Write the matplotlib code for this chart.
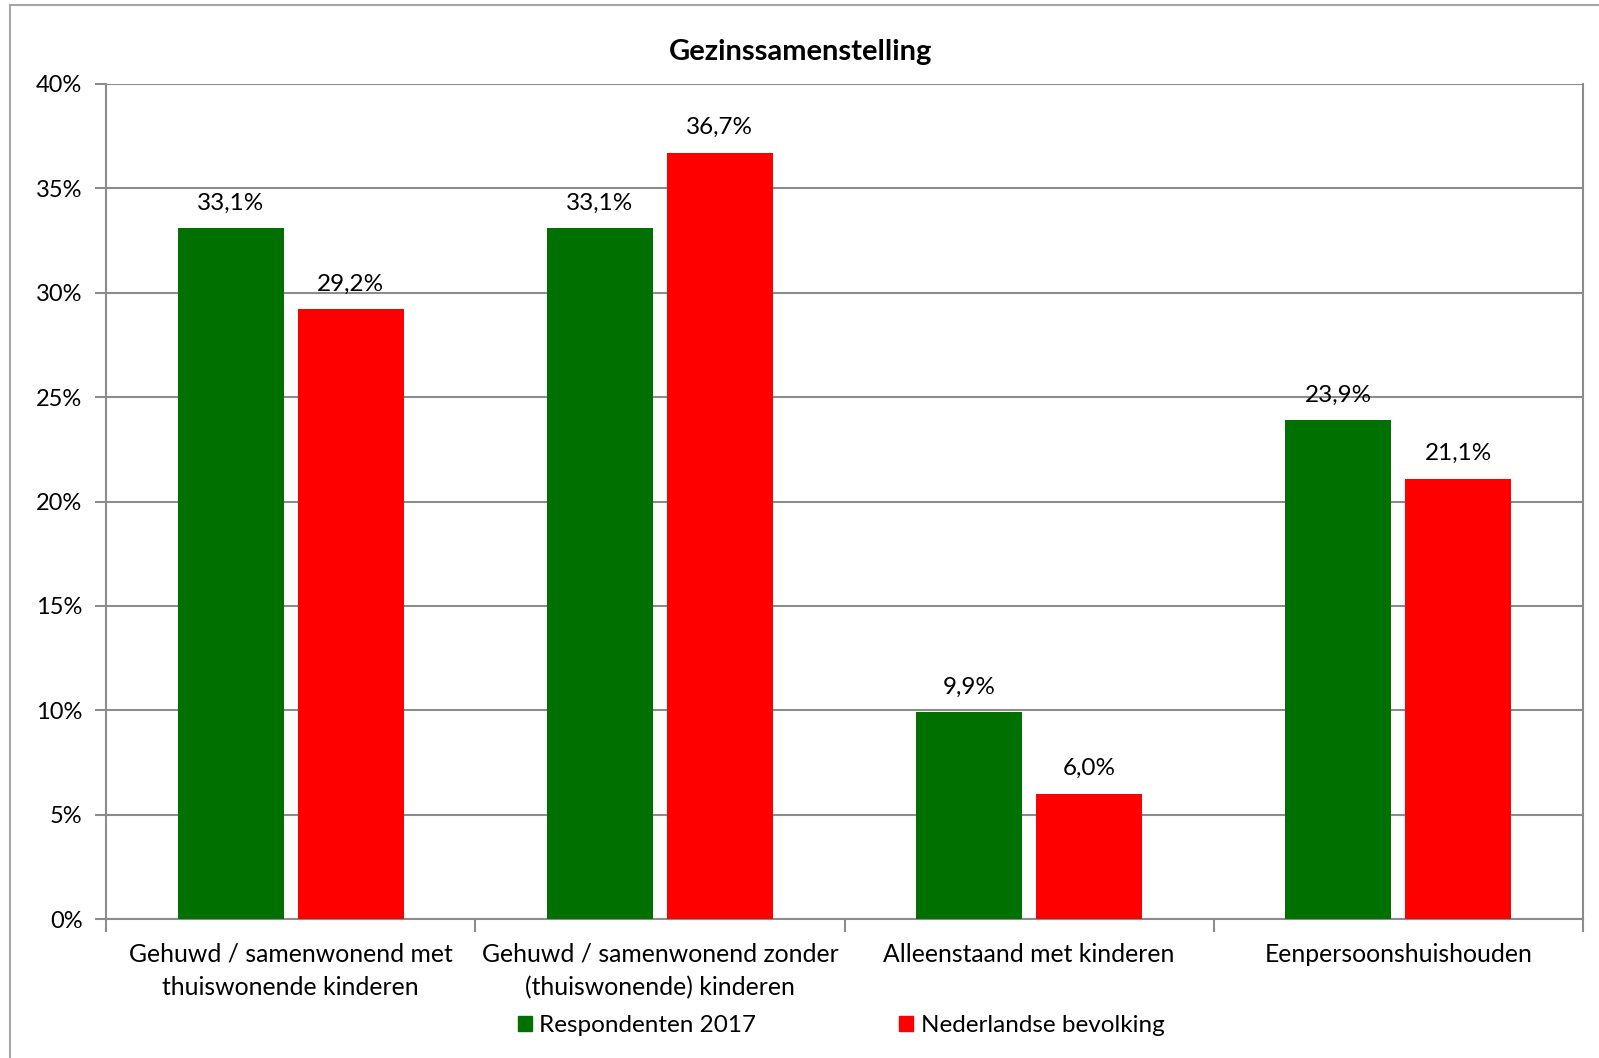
import numpy as np
import matplotlib.pyplot as plt
from matplotlib.lines import Line2D
from matplotlib.ticker import FuncFormatter, MultipleLocator

plt.rcParams['font.family'] = ['Lato', 'DejaVu Sans']

# data
categories = ['Gehuwd / samenwonend met\nthuiswonende kinderen',
              'Gehuwd / samenwonend zonder\n(thuiswonende) kinderen',
              'Alleenstaand met kinderen',
              'Eenpersoonshuishouden']
respondenten = [33.1, 33.1, 9.9, 23.9]
bevolking = [29.2, 36.7, 6.0, 21.1]
series_names = ['Respondenten 2017', 'Nederlandse bevolking']
colors = ['#007000', '#ff0000']

fig = plt.figure(figsize=(15.99, 10.58), dpi=100)
ax = fig.add_axes([106 / 1599, 1 - 919 / 1058, (1583 - 106) / 1599, (919 - 84) / 1058])

x = np.arange(len(categories))
w = 0.287
off = 0.1625
grid_c = '#8c8c8c'

b1 = ax.bar(x - off, respondenten, w, color=colors[0], zorder=3)
b2 = ax.bar(x + off, bevolking, w, color=colors[1], zorder=3)

for bars, vals in ((b1, respondenten), (b2, bevolking)):
    for r, v in zip(bars, vals):
        ax.text(r.get_x() + r.get_width() / 2, v + 1.2, f'{v:.1f}%'.replace('.', ','),
                ha='center', va='center', fontsize=17.5)

ax.set_xlim(-0.5, len(categories) - 0.5)
ax.set_ylim(0, 40)
ax.yaxis.set_major_locator(MultipleLocator(5))
ax.yaxis.set_major_formatter(FuncFormatter(lambda v, p: f'{v:.0f}%'))
ax.grid(axis='y', color=grid_c, linewidth=1.5, zorder=0)

# category separators as ticks
ax.set_xticks(np.arange(len(categories) + 1) - 0.5)
ax.set_xticklabels([])
ax.set_xticks(x, minor=True)
ax.set_xticklabels(categories, minor=True, fontsize=17.8, linespacing=1.55)
ax.tick_params(axis='x', which='minor', length=0, pad=17)
ax.tick_params(axis='x', which='major', length=9, width=1.5, color=grid_c)
ax.tick_params(axis='y', length=8, width=1.5, color=grid_c, labelsize=17, pad=9)

for s in ['left', 'bottom', 'right']:
    ax.spines[s].set_color(grid_c)
    ax.spines[s].set_linewidth(1.5)
ax.spines['top'].set_visible(False)

fig.text(801 / 1599, 1 - 52 / 1058, 'Gezinssamenstelling', ha='center', va='center',
         fontsize=21, fontweight='bold')

handles = [plt.Rectangle((0, 0), 1, 1, color=c) for c in colors]
fig.legend(handles, series_names, loc='center', bbox_to_anchor=(841 / 1599, 1 - 1026 / 1058),
           ncol=2, frameon=False, fontsize=17.5, handlelength=0.58, handleheight=0.58,
           handletextpad=0.3, columnspacing=5.9)

# outer chart border
fig.add_artist(Line2D([10 / 1599, 10 / 1599], [0, 1 - 5 / 1058], transform=fig.transFigure,
                      color='#a6a6a6', linewidth=1.5))
fig.add_artist(Line2D([10 / 1599, 1], [1 - 5 / 1058, 1 - 5 / 1058], transform=fig.transFigure,
                      color='#a6a6a6', linewidth=1.5))

fig.savefig('out.png', dpi=100)
